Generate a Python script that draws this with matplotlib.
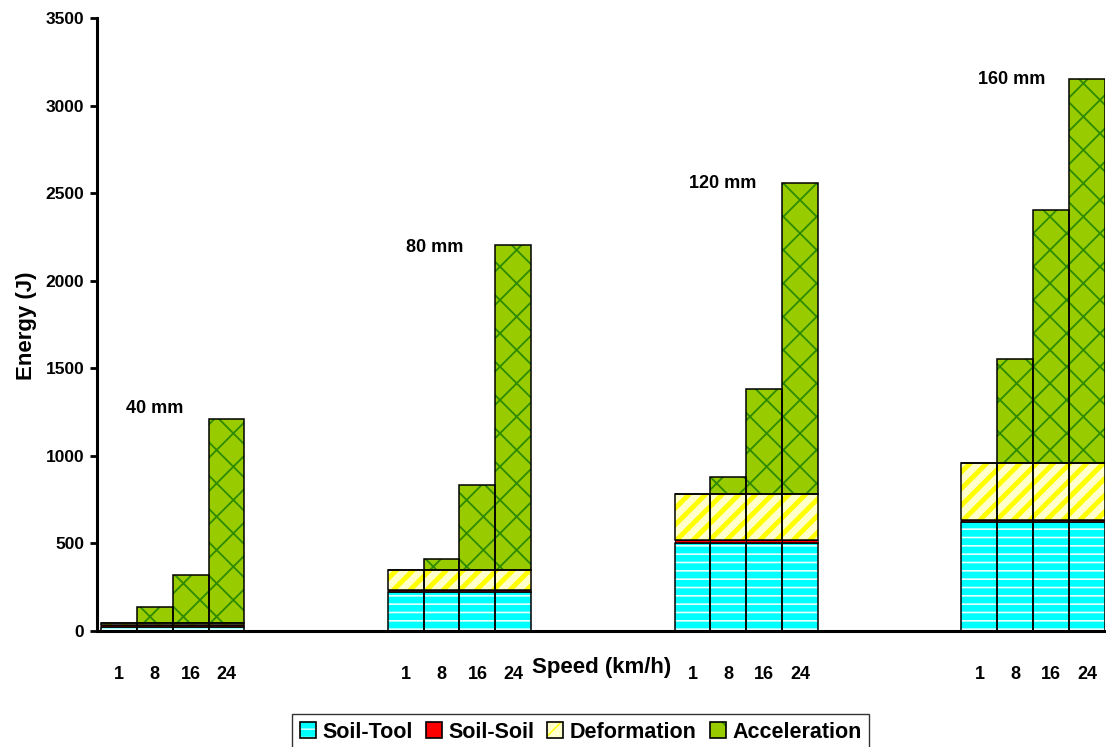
import numpy as np
import matplotlib
matplotlib.use("Agg")
import matplotlib.pyplot as plt
from matplotlib.patches import Patch

plt.rcParams['font.family'] = ['Liberation Sans', 'DejaVu Sans']
plt.rcParams['font.weight'] = 'bold'

# === DATA ===
speeds = [1, 8, 16, 24]
depths = ['40 mm', '80 mm', '120 mm', '160 mm']

soil_tool = [20, 220, 505, 620]
soil_soil = [15, 15, 15, 15]
deformation = [10, 113, 260, 325]

accel_40 = [0, 92, 275, 1166]
accel_80 = [0, 63, 485, 1856]
accel_120 = [2, 100, 603, 1780]
accel_160 = [0, 593, 1444, 2192]
acceleration = [accel_40, accel_80, accel_120, accel_160]

# depth label anchors (slot, energy)
label_x = [1.0, 8.8, 16.85, 24.9]
label_y = [1270, 2190, 2555, 3150]

# === STYLE ===
series = [
    # name, face, hatch, hatch color, hatch lw, edge lw
    ("Soil-Tool", "#00FFFF", "--", "#E6FFFF", 1.2, 1.1),
    ("Soil-Soil", "#FF0000", "", "#FF0000", 1.0, 0.5),
    ("Deformation", "#FFFFCC", "//", "#FFFF00", 3.5, 1.1),
    ("Acceleration", "#99CC00", "x", "#2E8B00", 1.3, 1.1),
]

fig = plt.figure(figsize=(11.06, 7.47), dpi=100)
ax = fig.add_axes([0.0877, 0.1553, 0.9113, 0.8207])

slots_per_group = 8
handles = []
for g in range(len(depths)):
    xs = np.arange(len(speeds)) + g * slots_per_group
    layers = [
        [soil_tool[g]] * len(speeds),
        [soil_soil[g]] * len(speeds),
        [deformation[g]] * len(speeds),
        acceleration[g],
    ]
    bottom = np.zeros(len(speeds))
    for (name, face, hatch, hcol, hlw, elw), vals in zip(series, layers):
        vals = np.array(vals, dtype=float)
        with plt.rc_context({'hatch.linewidth': hlw}):
            ax.bar(xs, vals, width=1.0, bottom=bottom, color=face,
                   hatch=hatch, edgecolor=hcol, linewidth=0, zorder=2)
        ax.bar(xs, vals, width=1.0, bottom=bottom, fill=False,
               edgecolor="black", linewidth=elw, zorder=3)
        bottom = bottom + vals

for name, face, hatch, hcol, hlw, elw in series:
    with plt.rc_context({'hatch.linewidth': min(hlw, 1.5)}):
        p1 = Patch(facecolor=face, hatch=hatch, edgecolor=hcol, linewidth=0)
    p2 = Patch(facecolor="none", edgecolor="black", linewidth=1.2)
    handles.append((p1, p2))

for txt, lx, ly in zip(depths, label_x, label_y):
    ax.text(lx, ly, txt, ha='center', va='center', fontsize=13, fontweight='bold')

# axes
ax.set_xlim(-0.61, 27.5)
ax.set_ylim(0, 3500)
ax.set_yticks(np.arange(0, 3501, 500))
ax.tick_params(axis='y', labelsize=12.5, width=2, length=5, pad=4)

tick_pos = []
tick_lab = []
for g in range(len(depths)):
    for i, s in enumerate(speeds):
        tick_pos.append(g * slots_per_group + i)
        tick_lab.append(str(s))
ax.set_xticks(tick_pos)
ax.set_xticklabels(tick_lab)
ax.tick_params(axis='x', length=0, labelsize=13, pad=25)

for sp in ['top', 'right']:
    ax.spines[sp].set_visible(False)
for sp in ['left', 'bottom']:
    ax.spines[sp].set_linewidth(2.2)

fig.text(0.544, 0.107, "Speed (km/h)", ha='center', va='center',
         fontsize=16, fontweight='bold')
fig.text(0.024, 0.564, "Energy (J)", ha='center', va='center',
         rotation=90, fontsize=16, fontweight='bold')

leg = fig.legend(handles, [s[0] for s in series], ncol=4,
                 loc='center', bbox_to_anchor=(0.525, 0.02),
                 fontsize=15.5, frameon=True, fancybox=False,
                 handlelength=0.75, handleheight=0.75, handletextpad=0.3,
                 columnspacing=0.6, borderpad=0.35, borderaxespad=0)
leg.get_frame().set_edgecolor('black')
leg.get_frame().set_linewidth(1.0)
for t in leg.get_texts():
    t.set_fontweight('bold')

fig.savefig("out.png", dpi=100)
